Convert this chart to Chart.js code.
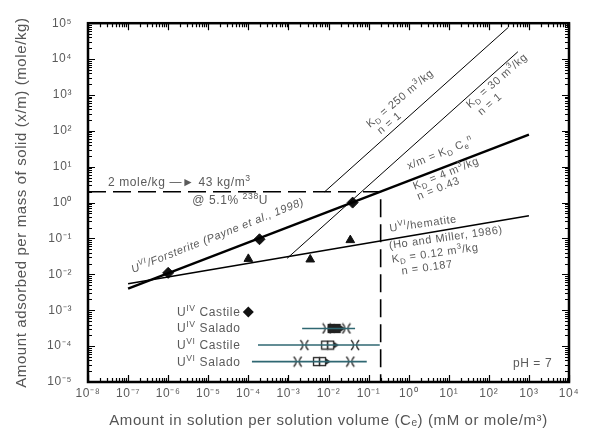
<!DOCTYPE html>
<html>
<head>
<meta charset="utf-8">
<script src="https://cdn.jsdelivr.net/npm/chart.js@4.4.1/dist/chart.umd.min.js"></script>
<style>
  html, body { margin: 0; padding: 0; background: #fff; }
  #wrap { width: 595px; height: 436px; }
</style>
</head>
<body>
<div id="wrap"><canvas id="myChart" width="595" height="436"></canvas></div>
<script>
// axis decades and their labels
var xDecades = [-8, -7, -6, -5, -4, -3, -2, -1, 0, 1, 2, 3, 4];
var xTickLabels = ['10⁻⁸', '10⁻⁷', '10⁻⁶', '10⁻⁵', '10⁻⁴', '10⁻³', '10⁻²', '10⁻¹', '10⁰', '10¹', '10²', '10³', '10⁴'];
var yDecades = [-5, -4, -3, -2, -1, 0, 1, 2, 3, 4, 5];
var yTickLabels = ['10⁻⁵', '10⁻⁴', '10⁻³', '10⁻²', '10⁻¹', '10⁰', '10¹', '10²', '10³', '10⁴', '10⁵'];

// isotherm lines, end points (C in mM, x/m in mole/kg)
var forsteriteC = [1e-7, 1e3];
var forsteriteXm = [0.004, 78];
var hematiteC = [1e-7, 1e3];
var hematiteXm = [0.0055, 0.43];
var linearHighC = [0.008, 300];
var linearHighXm = [2, 75000];
var linearLowC = [0.00093, 530];
var linearLowXm = [0.028, 16000];

// 2 mole/kg reference (dashed)
var refC = [1e-8, 0.2, 0.2];
var refXm = [2, 2, 1e-5];

// measured points
var diamondC = [1e-6, 1.9e-4, 0.04];
var diamondXm = [0.011, 0.095, 1.0];
var triangleC = [1e-4, 0.0035, 0.035];
var triangleXm = [0.027, 0.026, 0.09];

// brine concentration ranges (rows of the legend)
var rangeY = [3.1e-4, 1.07e-4, 3.7e-5];
var rangeLow = [0.0022, 1.74e-4, 1.23e-4];
var rangeHigh = [0.046, 0.19, 0.09];
var rangeLowMark = [0.009, 0.0025, 0.0017];
var rangeMid = [0.016, 0.011, 0.0069];
var rangeHighMark = [0.028, 0.046, 0.035];

// legend rows: name, oxidation state, y
var legendNames = ['Castile', 'Salado', 'Castile', 'Salado'];
var legendOx = ['IV', 'IV', 'VI', 'VI'];
var legendY = [8.9e-4, 3.1e-4, 1.07e-4, 3.7e-5];

var FONT = '"Liberation Sans", Arial, sans-serif';
var TXT = '#5a5a5a';
var TEAL = '#2f6772';

function pts(xs, ys) {
	return xs.map(function (x, i) { return { x: x, y: ys[i] }; });
}

function makeMarker(kind) {
	var c = document.createElement('canvas');
	var g = c.getContext('2d');
	if (kind === 'bracket') {
		c.width = 12; c.height = 12;
		g.strokeStyle = '#222';
		g.lineWidth = 1.3;
		g.beginPath(); g.moveTo(2, 1); g.quadraticCurveTo(7, 6, 2, 11); g.stroke();
		g.beginPath(); g.moveTo(10, 1); g.quadraticCurveTo(5, 6, 10, 11); g.stroke();
	} else {
		c.width = 20; c.height = 11;
		g.strokeStyle = '#222';
		g.lineWidth = 1.3;
		g.fillStyle = kind === 'filled' ? '#222' : '#fff';
		g.fillRect(1, 1.5, 12, 8);
		g.strokeRect(1.5, 1.5, 6, 8);
		g.strokeRect(7.5, 1.5, 6, 8);
		g.fillStyle = '#222';
		g.beginPath(); g.moveTo(13.5, 2); g.lineTo(18.5, 5.5); g.lineTo(13.5, 9); g.closePath(); g.fill();
	}
	return c;
}
var bracketMark = makeMarker('bracket');
var openBox = makeMarker('open');
var filledBox = makeMarker('filled');

// rich text: plain strings or [text, 'sup'|'sub']
function drawRich(ctx, x, y, segs, size, italic) {
	var cx = x;
	segs.forEach(function (s) {
		var t = typeof s === 'string' ? s : s[0];
		var kind = typeof s === 'string' ? '' : s[1];
		var fs = kind ? size * 0.72 : size;
		var dy = kind === 'sup' ? -size * 0.42 : (kind === 'sub' ? size * 0.25 : 0);
		ctx.font = (italic ? 'italic ' : '') + fs + 'px ' + FONT;
		ctx.fillText(t, cx, y + dy);
		cx += ctx.measureText(t).width;
	});
}

// annotations: anchor in log10 data space, rotation, per-line local offsets
var notes = [
	{ at: [-7.5, 0.46], rot: 0, size: 12, lines: [['2 mole/kg —► 43 kg/m', ['3', 'sup']]] },
	{ at: [-5.4, -0.03], rot: 0, size: 12, lines: [['@ 5.1% ', ['238', 'sup'], 'U']] },
	{ at: [-6.88, -1.96], rot: -21.7, size: 11, italic: true,
		lines: [['U', ['VI', 'sup'], '/Forsterite (Payne et al., 1998)']] },
	{ at: [0, 0.92], rot: -22, size: 11, off: [[0, 0], [-2, 21], [-2, 32]],
		lines: [['x/m = K', ['D', 'sub'], ' C', ['e', 'sub'], ['n', 'sup']],
			['K', ['D', 'sub'], ' = 4 m', ['3', 'sup'], '/kg'],
			['n = 0.43']] },
	{ at: [-0.465, -0.81], rot: -8, size: 11, off: [[0, 0], [-3, 17], [-2, 31], [6, 44]],
		lines: [['U', ['VI', 'sup'], '/hematite'],
			['(Ho and Miller, 1986)'],
			['K', ['D', 'sub'], ' = 0.12 m', ['3', 'sup'], '/kg'],
			['n = 0.187']] },
	{ at: [-0.964, 2.08], rot: -40, size: 11, off: [[0, 0], [4, 12]],
		lines: [['K', ['D', 'sub'], ' = 250 m', ['3', 'sup'], '/kg'], ['n = 1']] },
	{ at: [1.53, 2.62], rot: -41, size: 11, off: [[0, 0], [4, 13]],
		lines: [['K', ['D', 'sub'], ' = 30 m', ['3', 'sup'], '/kg'], ['n = 1']] },
	{ at: [2.6, -4.57], rot: 0, size: 12, lines: [['pH = 7']] }
];

// the scanned figure's text is loosely spaced
var spacing = {
	id: 'spacing',
	beforeDraw: function (chart) { chart.ctx.letterSpacing = '0.6px'; },
	afterDraw: function (chart) { chart.ctx.letterSpacing = '0px'; }
};

var frame = {
	id: 'frame',
	afterDatasetsDraw: function (chart) {
		var a = chart.chartArea, ctx = chart.ctx, sx = chart.scales.x, sy = chart.scales.y;
		ctx.save();
		ctx.strokeStyle = '#000';
		ctx.lineWidth = 2.5;
		ctx.strokeRect(a.left, a.top, a.right - a.left, a.bottom - a.top);
		ctx.lineWidth = 1.2;
		ctx.beginPath();
		xDecades.forEach(function (d) {
			for (var m = 1; m < 10; m++) {
				var v = m * Math.pow(10, d);
				if (v > sx.max * 1.0001) break;
				var p = Math.round(sx.getPixelForValue(v)) + 0.5, len = m === 1 ? 7 : 4;
				ctx.moveTo(p, a.bottom); ctx.lineTo(p, a.bottom - len);
				ctx.moveTo(p, a.top); ctx.lineTo(p, a.top + len);
			}
		});
		yDecades.forEach(function (d) {
			for (var m = 1; m < 10; m++) {
				var v = m * Math.pow(10, d);
				if (v > sy.max * 1.0001) break;
				var p = Math.round(sy.getPixelForValue(v)) + 0.5, len = m === 1 ? 7 : 4;
				ctx.moveTo(a.left, p); ctx.lineTo(a.left + len, p);
				ctx.moveTo(a.right, p); ctx.lineTo(a.right - len, p);
			}
		});
		ctx.stroke();

		// annotations
		ctx.fillStyle = TXT;
		ctx.textBaseline = 'alphabetic';
		notes.forEach(function (n) {
			var x = sx.getPixelForValue(Math.pow(10, n.at[0]));
			var y = sy.getPixelForValue(Math.pow(10, n.at[1]));
			ctx.save();
			ctx.translate(x, y);
			ctx.rotate(n.rot * Math.PI / 180);
			n.lines.forEach(function (line, i) {
				var o = n.off ? n.off[i] : [0, i * 13];
				drawRich(ctx, o[0], o[1], line, n.size, n.italic);
			});
			ctx.restore();
		});

		// legend rows
		var lx = sx.getPixelForValue(Math.pow(10, -5.78));
		legendNames.forEach(function (name, i) {
			var ly = sy.getPixelForValue(legendY[i]) + 4;
			drawRich(ctx, lx, ly, ['U', [legendOx[i], 'sup'], ' ' + name], 12);
		});
		// legend marker for the U(IV) Castile diamonds
		var dx = sx.getPixelForValue(1e-4), dy = sy.getPixelForValue(legendY[0]);
		ctx.fillStyle = '#111';
		ctx.beginPath();
		ctx.moveTo(dx, dy - 5.5); ctx.lineTo(dx + 5.5, dy); ctx.lineTo(dx, dy + 5.5); ctx.lineTo(dx - 5.5, dy);
		ctx.closePath(); ctx.fill();
		ctx.restore();
	}
};

var lineSet = function (data, width, dash, color) {
	return {
		data: data, showLine: true, pointRadius: 0, borderWidth: width,
		borderColor: color || '#000', borderDash: dash || [], fill: false
	};
};
var markSet = function (data, style, radius) {
	return {
		data: data, showLine: false, pointStyle: style, pointRadius: radius,
		backgroundColor: '#111', borderColor: '#111', borderWidth: 1
	};
};

var datasets = [
	lineSet(pts(forsteriteC, forsteriteXm), 2.4),
	lineSet(pts(hematiteC, hematiteXm), 1.6),
	lineSet(pts(linearHighC, linearHighXm), 1),
	lineSet(pts(linearLowC, linearLowXm), 1),
	lineSet(pts(refC, refXm), 1.6, [18, 7])
];
rangeY.forEach(function (y, i) {
	datasets.push(lineSet([{ x: rangeLow[i], y: y }, { x: rangeHigh[i], y: y }], 1.6, null, TEAL));
	datasets.push(markSet([{ x: rangeLowMark[i], y: y }, { x: rangeHighMark[i], y: y }], bracketMark, 5));
	datasets.push(markSet([{ x: rangeMid[i], y: y }], i === 0 ? filledBox : openBox, 5));
});
datasets.push(markSet(pts(diamondC, diamondXm), 'rectRot', 5.5));
datasets.push(markSet(pts(triangleC, triangleXm), 'triangle', 5));

Chart.defaults.font.family = FONT;

var ctx = document.getElementById('myChart').getContext('2d');
var myChart = new Chart(ctx, {
	type: 'scatter',
	data: { datasets: datasets },
	plugins: [spacing, frame],
	options: {
		responsive: false,
		animation: false,
		layout: { padding: { top: 12, right: 26, left: 0, bottom: 0 } },
		plugins: {
			legend: { display: false },
			tooltip: { enabled: false }
		},
		scales: {
			x: {
				type: 'logarithmic',
				min: 1e-8,
				max: 1e4,
				grid: { display: false, drawTicks: false },
				border: { display: false },
				afterBuildTicks: function (s) {
					s.ticks = xDecades.map(function (d) { return { value: Math.pow(10, d) }; });
				},
				afterFit: function (s) { s.height = 54; },
				ticks: {
					autoSkip: false, maxRotation: 0, padding: 4, color: TXT, font: { size: 12 },
					callback: function (v, i) { return xTickLabels[i]; }
				},
				title: {
					display: true, color: '#555', font: { size: 15 }, padding: { top: 0, bottom: 6 },
					text: 'Amount in solution per solution volume (Cₑ) (mM or mole/m³)'
				}
			},
			y: {
				type: 'logarithmic',
				min: 1e-5,
				max: 1e5,
				grid: { display: false, drawTicks: false },
				border: { display: false },
				afterBuildTicks: function (s) {
					s.ticks = yDecades.map(function (d) { return { value: Math.pow(10, d) }; });
				},
				afterFit: function (s) { s.width = 88; },
				ticks: {
					autoSkip: false, padding: 16, color: TXT, font: { size: 12 },
					callback: function (v, i) { return yTickLabels[i]; }
				},
				title: {
					display: true, color: '#555', font: { size: 15 }, padding: { top: 13, bottom: 0 },
					text: 'Amount adsorbed per mass of solid (x/m) (mole/kg)'
				}
			}
		}
	}
});
</script>
</body>
</html>
